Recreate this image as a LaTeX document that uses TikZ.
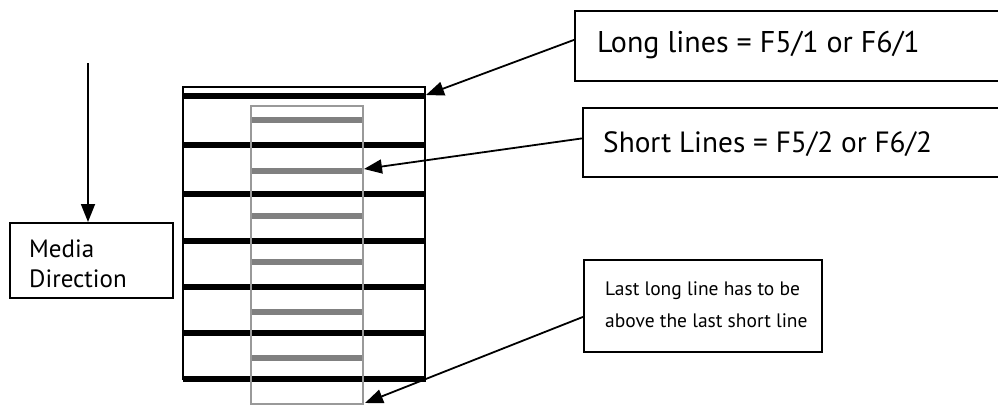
\documentclass[tikz,border=0pt]{standalone}
\usepackage{fontspec}
\setmainfont{PT Sans}
\usetikzlibrary{arrows.meta,calc}
\definecolor{midgray}{HTML}{808080}
\definecolor{framegray}{HTML}{999999}
\tikzset{
  labelbox/.style={draw=black,line width=1.8pt,rectangle,inner sep=0pt,anchor=north west},
  labeltext/.style={anchor=base west,inner sep=0pt},
  longline/.style={line width=6pt,black},
  shortline/.style={line width=6pt,midgray},
  pointer/.style={line width=1.8pt,-{Triangle[length=18pt,width=14pt]}},
}
\begin{document}
\begin{tikzpicture}[x=1pt,y=-1pt]
\useasboundingbox (0,0) rectangle (998,405);

% media sheet with the printed lines
\draw[line width=1.8pt] (183,380) -- (183,87) -- (425,87) -- (425,380);
\foreach \y in {96,145,194,241,287,333,379}
  \draw[longline] (183,\y) -- (426,\y);
\foreach \y in {120,171,216,262,312,358}
  \draw[shortline] (250,\y) -- (362,\y);
\node[draw=framegray,line width=1.8pt,rectangle,inner sep=0pt,anchor=north west,
      minimum width=112pt,minimum height=298pt] (inner) at (250,105) {};

\coordinate (tipLong) at (426,95);
\coordinate (tipShort) at (364,169);
\coordinate (tipLast) at (365,403);

% callout boxes
\node[labelbox,minimum width=440pt,minimum height=70pt] (longbox) at (574,10) {};
\node[labeltext,font=\fontsize{30}{30}\selectfont] (longtxt) at (597,52) {Long lines = F5/1 or F6/1};

\node[labelbox,minimum width=440pt,minimum height=69pt] (shortbox) at (582,107) {};
\node[labeltext,font=\fontsize{29.3}{30}\selectfont] (shorttxt) at (603,152) {Short Lines = F5/2 or F6/2};

\node[labelbox,minimum width=238pt,minimum height=92pt] (lastbox) at (583,259) {};
\node[labeltext,font=\fontsize{19.5}{20}\selectfont] (lasttxt1) at (605,295) {Last long line has to be};
\node[labeltext,font=\fontsize{19.5}{20}\selectfont] (lasttxt2) at (605,327) {above the last short line};

\node[labelbox,minimum width=163pt,minimum height=75pt] (mediabox) at (9,222) {};
\node[labeltext,font=\fontsize{25}{25}\selectfont] (mediatxt1) at (29,257) {Media};
\node[labeltext,font=\fontsize{25}{25}\selectfont] (mediatxt2) at (29,287) {Direction};

% pointers
\coordinate (dirstart) at (88,63);
\draw[pointer] (dirstart) -- (mediabox.north west -| dirstart);
\draw[pointer] ([yshift=6pt]longbox.west) -- (tipLong);
\draw[pointer] ([yshift=4pt]shortbox.west) -- (tipShort);
\draw[pointer] ([yshift=-11pt]lastbox.west) -- (tipLast);
\end{tikzpicture}
\end{document}
